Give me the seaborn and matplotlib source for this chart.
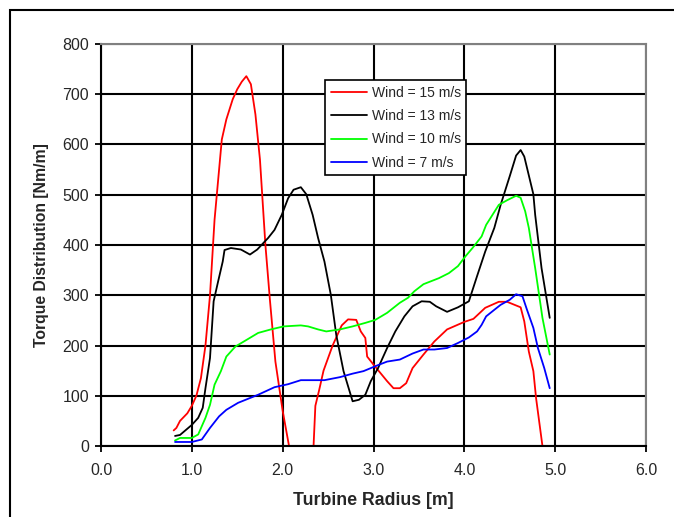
import numpy as np
import pandas as pd
import matplotlib
matplotlib.use("Agg")
import matplotlib.pyplot as plt
import seaborn as sns
from matplotlib.lines import Line2D
from matplotlib.patches import Rectangle

# ---- data ----
r15_a_x = [0.80, 0.83, 0.87, 0.95, 1.00, 1.05, 1.10, 1.15, 1.20, 1.25, 1.30, 1.33, 1.38, 1.45, 1.50, 1.55,
           1.60, 1.65, 1.70, 1.75, 1.81, 1.86, 1.92, 2.00, 2.07]
r15_a_y = [31, 36, 50, 65, 80, 100, 135, 200, 300, 450, 550, 610, 650, 690, 710, 725,
           736, 720, 660, 570, 400, 290, 168, 70, 0]
r15_b_x = [2.34, 2.36, 2.40, 2.45, 2.55, 2.65, 2.72, 2.81, 2.86, 2.91, 2.93, 3.00, 3.15, 3.22, 3.29, 3.36,
           3.43, 3.55, 3.67, 3.81, 4.00, 4.10, 4.23, 4.38, 4.47, 4.62, 4.66, 4.71, 4.76, 4.79, 4.86]
r15_b_y = [0, 80, 110, 150, 200, 240, 252, 251, 228, 215, 178, 162, 129, 115, 115, 125,
           155, 182, 208, 232, 247, 253, 275, 287, 287, 276, 248, 188, 149, 95, 0]

w13_x = [0.815, 0.87, 1.00, 1.07, 1.12, 1.15, 1.20, 1.24, 1.29, 1.34, 1.36, 1.43, 1.54, 1.64, 1.72, 1.84,
         1.91, 1.99, 2.06, 2.12, 2.20, 2.26, 2.33, 2.39, 2.46, 2.53, 2.59, 2.67, 2.77, 2.84, 2.91, 2.97,
         3.05, 3.15, 3.24, 3.34, 3.43, 3.53, 3.62, 3.69, 3.81, 3.93, 4.05, 4.14, 4.23, 4.33, 4.40, 4.50,
         4.57, 4.62, 4.66, 4.76, 4.78, 4.85, 4.94]
w13_y = [20, 22, 42, 56, 76, 115, 175, 288, 328, 367, 390, 394, 391, 381, 391, 414,
         430, 460, 493, 510, 515, 501, 460, 414, 367, 301, 221, 149, 89, 92, 102, 129,
         155, 195, 228, 258, 278, 288, 287, 278, 267, 276, 288, 338, 387, 434, 480, 537,
         578, 589, 576, 501, 460, 354, 255]

w10_x = [0.815, 0.87, 1.00, 1.07, 1.15, 1.20, 1.25, 1.32, 1.38, 1.48, 1.61, 1.73, 1.87, 2.01, 2.20, 2.28,
         2.39, 2.48, 2.63, 2.77, 2.91, 3.02, 3.15, 3.29, 3.38, 3.45, 3.55, 3.72, 3.83, 3.93, 4.01, 4.09,
         4.19, 4.24, 4.38, 4.47, 4.57, 4.62, 4.67, 4.71, 4.78, 4.86, 4.94]
w10_y = [11, 16, 16, 23, 56, 82, 122, 149, 178, 198, 212, 225, 232, 238, 240, 238,
         232, 228, 232, 238, 245, 251, 265, 285, 295, 308, 322, 334, 344, 358, 377, 394,
         417, 440, 480, 489, 498, 494, 467, 434, 354, 255, 182]

w7_x = [0.815, 1.00, 1.11, 1.20, 1.30, 1.38, 1.51, 1.73, 1.91, 2.06, 2.20, 2.46, 2.63, 2.77, 2.89, 3.05,
        3.15, 3.29, 3.43, 3.55, 3.67, 3.81, 3.93, 4.05, 4.14, 4.19, 4.24, 4.33, 4.40, 4.50, 4.57, 4.64,
        4.69, 4.76, 4.81, 4.88, 4.94]
w7_y = [8, 8, 13, 36, 59, 72, 86, 102, 117, 123, 131, 131, 137, 144, 149, 161,
        168, 172, 184, 192, 192, 195, 205, 216, 228, 241, 258, 271, 281, 291, 302, 298,
        271, 235, 195, 155, 115]

labels = ["Wind = 15 m/s", "Wind = 13 m/s", "Wind = 10 m/s", "Wind = 7 m/s"]
colors = ["#ff0000", "#000000", "#00ff00", "#0000ff"]
x_ticks = [0, 1, 2, 3, 4, 5, 6]
y_ticks = [0, 100, 200, 300, 400, 500, 600, 700, 800]

# ---- build long frame ----
frames = []
def add(xs, ys, label, seg):
    frames.append(pd.DataFrame({"x": xs, "y": ys, "series": label, "seg": seg}))
add(r15_a_x, r15_a_y, labels[0], 0)
add(r15_b_x, r15_b_y, labels[0], 1)
add(w13_x, w13_y, labels[1], 0)
add(w10_x, w10_y, labels[2], 0)
add(w7_x, w7_y, labels[3], 0)
df = pd.concat(frames, ignore_index=True)

sns.set_theme(style="white")
plt.rcParams["font.family"] = ["Liberation Sans", "DejaVu Sans"]

fig = plt.figure(figsize=(6.74, 5.17), dpi=100)
ax = fig.add_axes([101 / 674, 1 - 446 / 517, (646 - 101) / 674, (446 - 44) / 517])

# grid
ax.set_axisbelow(True)
ax.grid(True, color="black", linewidth=1.5)

sns.lineplot(data=df, x="x", y="y", hue="series", units="seg", estimator=None,
             palette=dict(zip(labels, colors)), hue_order=labels, sort=False,
             linewidth=1.3, ax=ax, legend=False)

ax.set_xlim(0, 6)
ax.set_ylim(0, 800)
ax.set_xticks(x_ticks)
ax.set_xticklabels([f"{v:.1f}" for v in x_ticks])
ax.set_yticks(y_ticks)
ax.tick_params(axis="both", direction="inout", length=9, width=1.3, color="black",
               labelsize=11.5, bottom=True, left=True)
ax.tick_params(axis="x", pad=8)
ax.tick_params(axis="y", pad=4)

for side in ["left", "bottom"]:
    ax.spines[side].set_color("black")
    ax.spines[side].set_linewidth(1.5)
for side in ["top", "right"]:
    ax.spines[side].set_color("#808080")
    ax.spines[side].set_linewidth(1.5)

ax.set_xlabel("Turbine Radius [m]", fontsize=12.8, fontweight="bold", labelpad=10)
ax.set_ylabel("Torque Distribution [Nm/m]", fontsize=11.3, fontweight="bold", labelpad=10)

handles = [Line2D([0], [0], color=c, lw=1.3) for c in colors]
leg = ax.legend(handles, labels, loc="upper left",
                bbox_to_anchor=(325 / 674, 1 - 80 / 517), bbox_transform=fig.transFigure,
                fontsize=10, frameon=True, fancybox=False, shadow=False,
                handlelength=2.6, handletextpad=0.35, borderpad=0.4, labelspacing=0.68,
                borderaxespad=0)
leg.get_frame().set_edgecolor("black")
leg.get_frame().set_linewidth(1.2)
leg.get_frame().set_facecolor("white")
leg.get_frame().set_alpha(1)

# outer chart border
fig.patches.append(Rectangle((10 / 674, -0.1), 1.2, 1 - 10 / 517 + 0.1,
                             transform=fig.transFigure, fill=False,
                             edgecolor="black", linewidth=1.5))

fig.savefig("out.png", dpi=100, facecolor="white")
